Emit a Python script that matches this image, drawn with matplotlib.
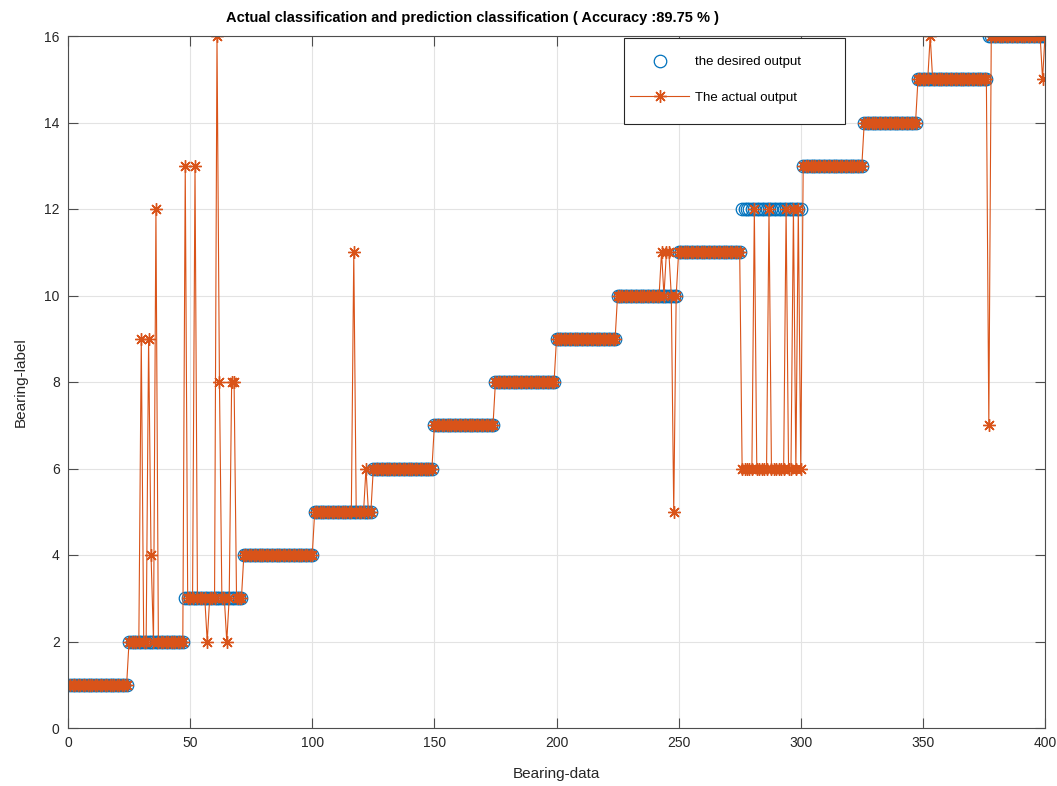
import matplotlib
matplotlib.use('Agg')
import matplotlib.pyplot as plt
from matplotlib.patches import Rectangle
import numpy as np

# samples per bearing class (classes 1..16)
class_sizes = [24, 23, 24, 29, 24, 25, 25, 25, 25, 25, 26, 25, 25, 22, 29, 24]

# misclassified samples: sample index -> predicted label
err_index = [30, 33, 34, 36,
             48, 52, 57, 61, 62, 65, 67, 68,
             117, 122,
             243, 245, 246, 248,
             276, 277, 278, 279, 280, 282, 283, 284, 285, 286,
             288, 289, 290, 291, 292, 293, 295, 296, 298, 300,
             353, 377, 399]
err_label = [9, 9, 4, 12,
             13, 13, 2, 16, 8, 2, 8, 8,
             11, 6,
             11, 11, 11, 5,
             6, 6, 6, 6, 6, 6, 6, 6, 6, 6,
             6, 6, 6, 6, 6, 6, 6, 6, 6, 6,
             16, 7, 15]

title = 'Actual classification and prediction classification ( Accuracy :89.75 % )'

desired = np.repeat(np.arange(1, 17), class_sizes)
x = np.arange(1, len(desired) + 1)
actual = desired.copy()
actual[np.array(err_index) - 1] = err_label

plt.rcParams['font.family'] = ['Liberation Sans', 'DejaVu Sans']

W, H = 1057, 786
fig = plt.figure(figsize=(W / 100, H / 100), dpi=100)
ax = fig.add_axes([68 / W, 1 - 728 / H, 977 / W, 692 / H])

blue = '#0072BD'
orange = '#D95319'
axcol = '#4d4d4d'
asterisk = (8, 2, 0)

h1, = ax.plot(x, desired, 'o', mfc='none', mec=blue, ms=9, mew=0.9,
              linestyle='none', label='the desired output')
h2, = ax.plot(x, actual, '-', marker=asterisk, color=orange, lw=0.8,
              ms=9, mew=1.0, label='The actual output')

ax.set_xlim(0, 400)
ax.set_ylim(0, 16)
ax.set_xticks(np.arange(0, 401, 50))
ax.set_yticks(np.arange(0, 17, 2))
ax.grid(True, color='#e3e3e3', lw=0.8)
ax.set_axisbelow(True)
ax.tick_params(direction='in', length=7, width=0.8, colors=axcol,
               labelcolor='#262626', labelsize=10, top=True, right=True, pad=6)
for s in ax.spines.values():
    s.set_color(axcol)
    s.set_linewidth(0.8)

ax.set_xlabel('Bearing-data', fontsize=11, color='#262626', labelpad=12)
ax.set_ylabel('Bearing-label', fontsize=11, color='#262626', labelpad=12)

fig.text(472 / W, 1 - 18 / H, title, ha='center', va='center',
         fontsize=10.5, fontweight='bold')

# legend box like matlab's (wide right margin)
box = Rectangle((624 / W, 1 - 124 / H), 221 / W, 86 / H,
                transform=fig.transFigure, facecolor='white',
                edgecolor='#262626', lw=0.8, zorder=5)
fig.patches.append(box)

leg = fig.legend(handles=[h1, h2], loc='center left',
                 bbox_to_anchor=(630 / W, 1 - 80 / H), fontsize=9.5,
                 numpoints=1, handlelength=4.5, labelspacing=1.75,
                 borderpad=0, handletextpad=0.4, frameon=False,
                 borderaxespad=0)
leg.set_zorder(6)

fig.savefig('out.png', dpi=100)
